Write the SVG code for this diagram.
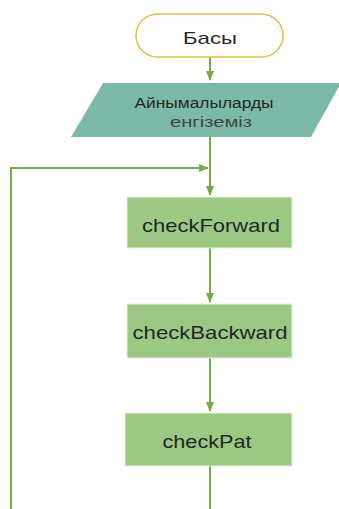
<svg xmlns="http://www.w3.org/2000/svg" width="339" height="509" viewBox="0 0 339 509">
<defs>
<style>
.ln{fill:none;stroke:#70AD47;stroke-width:2}
.box{fill:#9DC884;stroke:#E4F0DC;stroke-width:1}
.t{font-family:"Liberation Sans",Arial,sans-serif;fill:#1E2A22;text-anchor:middle}
</style>
<marker id="ah" markerWidth="6" markerHeight="6" refX="5" refY="3" orient="auto" markerUnits="userSpaceOnUse" viewBox="0 0 6 6">
<path d="M0,0 L6,3 L0,6 Z" fill="#70AD47"/>
</marker>
<marker id="ahd" markerWidth="10" markerHeight="8" refX="9" refY="4" orient="auto" markerUnits="userSpaceOnUse" viewBox="0 0 10 8">
<path d="M0,0 L10,4 L0,8 Z" fill="#70AD47"/>
</marker>
</defs>
<rect width="339" height="509" fill="#ffffff"/>
<g id="connectors">
<line class="ln" x1="210" y1="57" x2="210" y2="80" marker-end="url(#ahd)"/>
<line class="ln" x1="210" y1="137" x2="210" y2="195" marker-end="url(#ahd)"/>
<polyline class="ln" points="11,509 11,168 208,168" marker-end="url(#ahd)"/>
<line class="ln" x1="210" y1="248" x2="210" y2="302" marker-end="url(#ahd)"/>
<line class="ln" x1="210" y1="358" x2="210" y2="411" marker-end="url(#ahd)"/>
<line class="ln" x1="210" y1="466" x2="210" y2="509"/>
</g>
<g id="start">
<rect x="136" y="14" width="147" height="43" rx="21.5" ry="21.5" fill="#ffffff" stroke="#EDBC3E" stroke-width="1.5"/>
<text class="t" x="210" y="44" font-size="17" textLength="54" lengthAdjust="spacingAndGlyphs">Басы</text>
</g>
<g id="input">
<polygon points="103,83 341,83 311,137 71,137" fill="#7DB9A9"/>
<text class="t" x="204" y="108" font-size="14" textLength="139" lengthAdjust="spacingAndGlyphs">Айнымалыларды</text>
<text class="t" x="211" y="127" font-size="14" fill="#3C4A44" style="fill:#3A4742" textLength="82" lengthAdjust="spacingAndGlyphs">енгіземіз</text>
</g>
<g id="checkForward">
<rect class="box" x="127" y="197" width="165" height="51"/>
<text class="t" x="211" y="232" font-size="19" textLength="138" lengthAdjust="spacingAndGlyphs">checkForward</text>
</g>
<g id="checkBackward">
<rect class="box" x="127" y="304" width="165" height="54"/>
<text class="t" x="210" y="339" font-size="19" textLength="155" lengthAdjust="spacingAndGlyphs">checkBackward</text>
</g>
<g id="checkPat">
<rect class="box" x="125" y="413" width="167" height="53"/>
<text class="t" x="207" y="448" font-size="19" textLength="89" lengthAdjust="spacingAndGlyphs">checkPat</text>
</g>
</svg>
